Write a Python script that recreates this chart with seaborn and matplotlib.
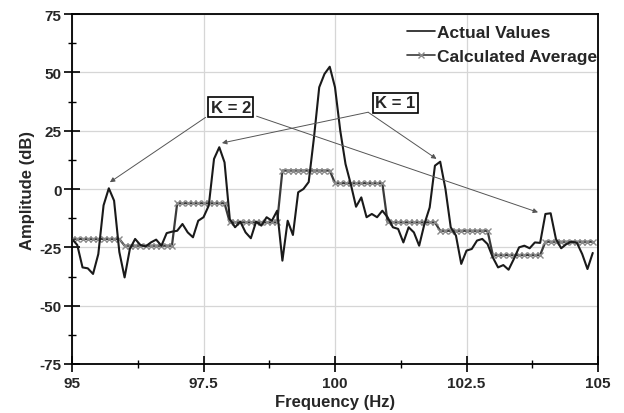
import numpy as np
import pandas as pd
import matplotlib
matplotlib.use("Agg")
import matplotlib.pyplot as plt
import seaborn as sns
from matplotlib.ticker import MultipleLocator
from matplotlib.lines import Line2D

# ---------------- data ----------------
freq = np.round(np.arange(95.0, 104.95, 0.1), 1)
actual = [
    -21.4, -24.0, -33.6, -34.0, -36.4, -27.9, -7.0, 0.3, -5.0, -27.0,
    -37.9, -25.7, -21.4, -24.0, -24.6, -22.9, -21.7, -24.3, -18.9, -18.3,
    -17.9, -15.0, -18.6, -20.7, -13.6, -12.1, -7.1, 12.9, 17.9, 11.4,
    -12.9, -16.4, -14.0, -18.6, -21.1, -14.0, -15.7, -12.1, -13.6, -9.3,
    -30.7, -13.6, -19.7, -1.4, 0.0, 3.0, 22.0, 43.6, 49.3, 52.4,
    43.6, 25.0, 10.7, 2.1, -7.6, -3.6, -12.1, -10.7, -12.1, -9.3,
    -12.1, -16.4, -17.1, -22.9, -16.4, -18.6, -24.3, -15.0, -7.9, 10.0,
    11.7, 0.0, -16.4, -20.0, -32.1, -26.4, -25.7, -22.1, -21.4, -23.6,
    -29.3, -33.6, -32.6, -34.6, -30.0, -25.0, -24.3, -25.4, -22.9, -23.1,
    -10.7, -10.4, -21.4, -25.4, -23.6, -22.6, -23.1, -27.9, -34.3, -27.4,
]
avg_levels = [-21.4, -24.3, -6.1, -14.3, 7.9, 2.5, -14.3, -17.9, -28.3, -22.6]
points_per_bin = 10
average = np.repeat(avg_levels, points_per_bin)

x_ticks = [95, 97.5, 100, 102.5, 105]
x_tick_labels = ["95", "97.5", "100", "102.5", "105"]
y_ticks = [-75, -50, -25, 0, 25, 50, 75]

df = pd.DataFrame({"freq": freq, "actual": actual, "average": average})

# ---------------- style ----------------
sns.set_style("white")
plt.rcParams["font.family"] = ["Liberation Sans", "DejaVu Sans"]
plt.rcParams["font.weight"] = "bold"
plt.rcParams["axes.unicode_minus"] = False

fig = plt.figure(figsize=(6.24, 4.14), dpi=100)
ax = fig.add_axes([72 / 624, 1 - 365 / 414, (598 - 72) / 624, (365 - 15) / 414])

sns.lineplot(data=df, x="freq", y="average", ax=ax, color="#3a3a3a", lw=1.6,
             marker="x", markersize=5, markeredgecolor="#8a8a8a",
             markeredgewidth=1.0, zorder=3)
sns.lineplot(data=df, x="freq", y="actual", ax=ax, color="#1a1a1a", lw=1.5,
             zorder=4)

ax.set_xlim(95, 105)
ax.set_ylim(-75, 75)
ax.set_xticks(x_ticks)
ax.set_xticklabels(x_tick_labels)
ax.set_yticks(y_ticks)
ax.xaxis.set_minor_locator(MultipleLocator(1.25))
ax.yaxis.set_minor_locator(MultipleLocator(12.5))
ax.grid(True, which="major", color="#d6d6d6", lw=0.9, zorder=0)
ax.set_axisbelow(True)

for s in ax.spines.values():
    s.set_color("black")
    s.set_linewidth(1.3)

ax.tick_params(axis="both", which="major", direction="inout", length=11,
               width=1.2, labelsize=11, color="black", pad=2)
ax.tick_params(axis="x", which="major", pad=3)
ax.tick_params(axis="both", which="minor", direction="inout", length=6,
               width=1.0, color="black")
ax.tick_params(left=True, bottom=True, which="both")
for lbl in ax.get_xticklabels() + ax.get_yticklabels():
    lbl.set_fontweight("bold")

ax.set_xlabel("Frequency (Hz)", fontsize=12, fontweight="bold", labelpad=3)
ax.set_ylabel("Amplitude (dB)", fontsize=12, fontweight="bold", labelpad=3)

handles = [
    Line2D([], [], color="#1a1a1a", lw=1.2),
    Line2D([], [], color="#3a3a3a", lw=1.2, marker="x", markersize=5,
           markeredgecolor="#8a8a8a"),
]
ax.legend(handles, ["Actual Values", "Calculated Average"], loc="upper right",
          bbox_to_anchor=(1.004, 0.978),
          frameon=False, prop={"weight": "bold", "size": 12.5},
          handlelength=1.6, handletextpad=0.1, labelspacing=0.5,
          borderaxespad=0.0, borderpad=0.2)

# annotations
box = dict(boxstyle="square,pad=0.15", fc="white", ec="black", lw=1.2)
arrow = dict(arrowstyle="-|>", color="#555555", lw=0.7, mutation_scale=7,
             shrinkA=0, shrinkB=0)
ax.text(98.02, 35.0, "K = 2", ha="center", va="center", fontsize=12,
        fontweight="bold", bbox=box, zorder=6)
ax.text(101.15, 37.0, "K = 1", ha="center", va="center", fontsize=12,
        fontweight="bold", bbox=box, zorder=6)
ax.annotate("", xy=(95.72, 2.9), xytext=(97.54, 30.7), arrowprops=arrow, zorder=5)
ax.annotate("", xy=(103.86, -10.0), xytext=(98.51, 31.2), arrowprops=arrow, zorder=5)
ax.annotate("", xy=(97.85, 19.7), xytext=(100.63, 32.9), arrowprops=arrow, zorder=5)
ax.annotate("", xy=(101.93, 12.9), xytext=(100.63, 32.9), arrowprops=arrow, zorder=5)

fig.savefig("out.png", dpi=100)
